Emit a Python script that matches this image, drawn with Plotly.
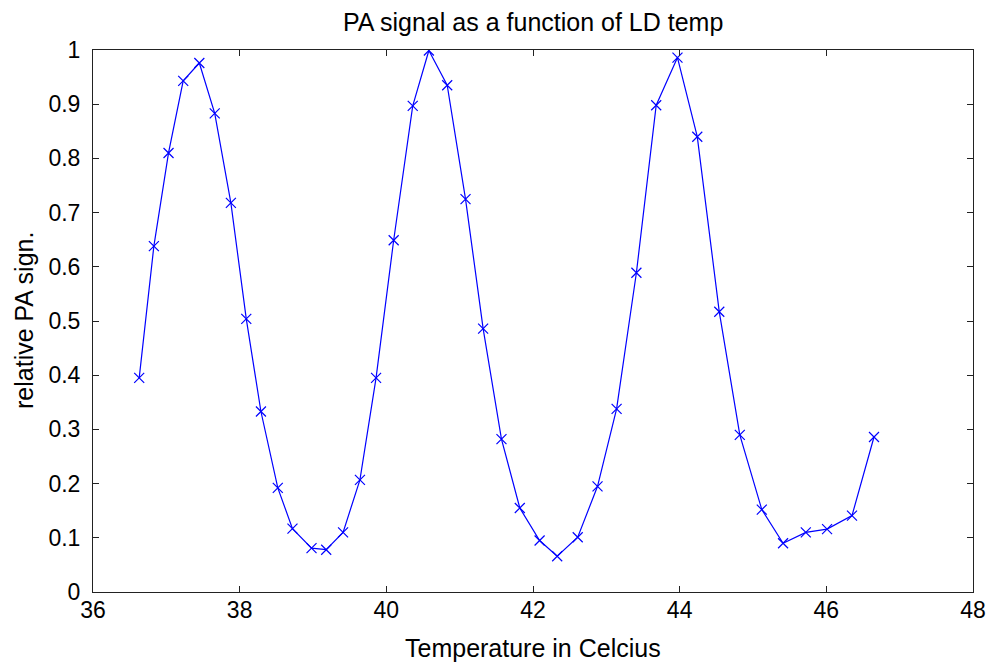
import plotly.graph_objects as go

temperature = [36.63, 36.83, 37.03, 37.23, 37.45, 37.66, 37.88, 38.09, 38.29, 38.52,
               38.72, 38.98, 39.18, 39.41, 39.64, 39.86, 40.10, 40.36, 40.58, 40.83,
               41.08, 41.32, 41.57, 41.82, 42.09, 42.33, 42.61, 42.88, 43.14, 43.41,
               43.68, 43.97, 44.24, 44.54, 44.82, 45.12, 45.41, 45.72, 46.01, 46.35,
               46.65]
pa_signal = [0.395, 0.638, 0.810, 0.943, 0.976, 0.883, 0.718, 0.504, 0.333, 0.192,
             0.117, 0.081, 0.078, 0.110, 0.207, 0.395, 0.649, 0.897, 0.999, 0.935,
             0.725, 0.486, 0.282, 0.155, 0.095, 0.066, 0.101, 0.195, 0.338, 0.589,
             0.898, 0.986, 0.840, 0.517, 0.290, 0.152, 0.090, 0.110, 0.116, 0.141,
             0.286]

x_ticks = [36, 38, 40, 42, 44, 46, 48]
y_ticks = [0, 0.1, 0.2, 0.3, 0.4, 0.5, 0.6, 0.7, 0.8, 0.9, 1]
y_tick_text = ["0", "0.1", "0.2", "0.3", "0.4", "0.5", "0.6", "0.7", "0.8", "0.9", "1"]

W, H = 993, 663
L, R, T, B = 93, 20, 50, 71
PW, PH = W - L - R, H - T - B

fig = go.Figure()
fig.add_trace(go.Scatter(
    x=temperature, y=pa_signal, mode="lines+markers",
    line=dict(color="#0000ff", width=1.2),
    marker=dict(symbol="x-thin", size=10, line=dict(color="#0000ff", width=1.2)),
    showlegend=False,
))

font = "Liberation Sans, Arial, sans-serif"
axis_common = dict(
    showline=True, linecolor="#222", linewidth=1, mirror="ticks",
    ticks="inside", ticklen=6, tickcolor="#222", showgrid=False, zeroline=False,
    automargin=False,
    tickfont=dict(family=font, size=23, color="#000"),
)
fig.update_layout(
    width=W, height=H,
    margin=dict(l=L, r=R, t=T, b=B),
    paper_bgcolor="white", plot_bgcolor="white",
    xaxis=dict(range=[36, 48], tickvals=x_ticks, ticktext=[str(v) for v in x_ticks],
               ticklabelstandoff=-3, **axis_common),
    yaxis=dict(range=[0, 1], tickvals=y_ticks, ticktext=y_tick_text,
               ticklabelstandoff=7, **axis_common),
    annotations=[
        dict(text="PA signal as a function of LD temp", xref="paper", yref="paper",
             x=0.5, y=1 + 28 / PH, xanchor="center", yanchor="middle",
             showarrow=False, font=dict(family=font, size=25, color="#000")),
        dict(text="Temperature in Celcius", xref="paper", yref="paper",
             x=0.5, y=-56 / PH, xanchor="center", yanchor="middle",
             showarrow=False, font=dict(family=font, size=25, color="#000")),
        dict(text="relative PA sign.", xref="paper", yref="paper", textangle=-90,
             x=-69 / PW, y=0.5, xanchor="center", yanchor="middle",
             showarrow=False, font=dict(family=font, size=25, color="#000")),
    ],
)
fig.write_html(
    "out.html",
    config={"displayModeBar": False},
    post_script="document.body.style.margin='0';document.body.style.overflow='hidden';",
)
